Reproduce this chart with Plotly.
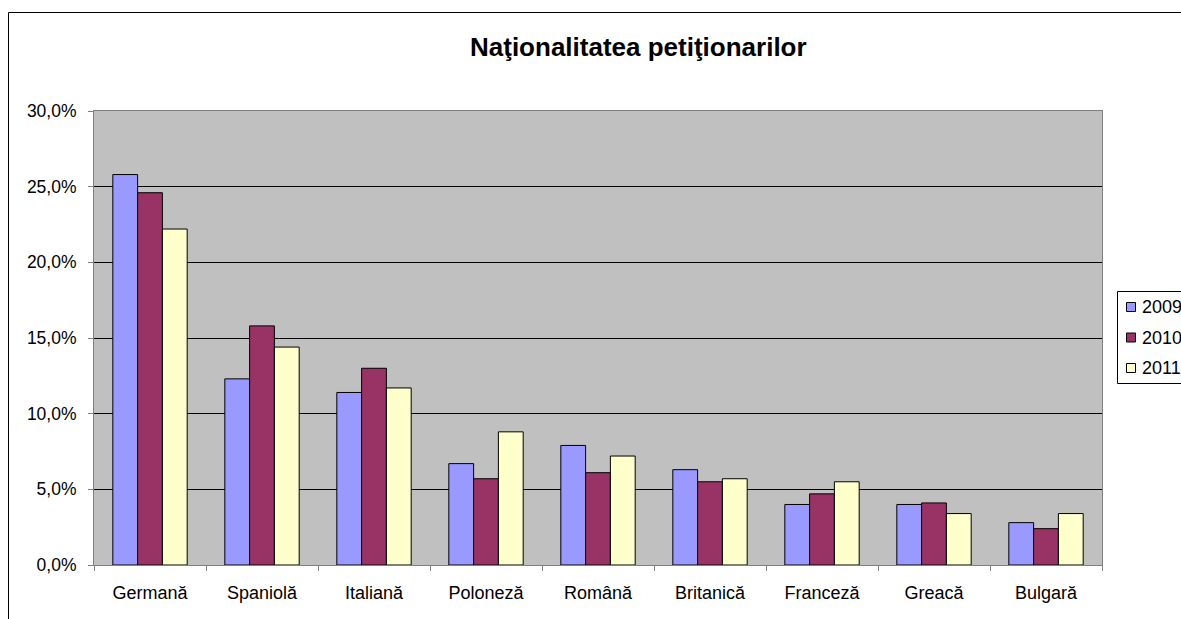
import plotly.graph_objects as go

categories = ["Germană", "Spaniolă", "Italiană", "Poloneză", "Română",
              "Britanică", "Franceză", "Greacă", "Bulgară"]
v2009 = [25.8, 12.3, 11.4, 6.7, 7.9, 6.3, 4.0, 4.0, 2.8]
v2010 = [24.6, 15.8, 13.0, 5.7, 6.1, 5.5, 4.7, 4.1, 2.4]
v2011 = [22.2, 14.4, 11.7, 8.8, 7.2, 5.7, 5.5, 3.4, 3.4]
series = [("2009", v2009, "#9999FF"), ("2010", v2010, "#993366"), ("2011", v2011, "#FFFFCC")]
y_ticks = [0, 5, 10, 15, 20, 25, 30]
y_tick_labels = ["0,0%", "5,0%", "10,0%", "15,0%", "20,0%", "25,0%", "30,0%"]

FONT = "Arial, Liberation Sans, sans-serif"
W, H = 1181, 619
# plot area in page pixels
L, R, T, B = 94, 1102, 111, 565

def px_x(p):
    return (p - L) / (R - L)

def px_y(p):
    return (B - p) / (B - T)

fig = go.Figure()
for name, vals, col in series:
    fig.add_trace(go.Bar(
        x=categories, y=vals, name=name, showlegend=False,
        marker=dict(color=col, line=dict(color="black", width=1)),
    ))

shapes = [
    # outer chart frame (continues past the right/bottom edges)
    dict(type="rect", xref="paper", yref="paper",
         x0=px_x(8.5), x1=px_x(1400), y0=px_y(12.5), y1=px_y(700),
         line=dict(color="black", width=1), fillcolor="rgba(0,0,0,0)", layer="above"),
    # legend box
    dict(type="rect", xref="paper", yref="paper",
         x0=px_x(1117.5), x1=px_x(1300), y0=px_y(291.5), y1=px_y(383.5),
         line=dict(color="black", width=1), fillcolor="white", layer="above"),
]
annotations = [dict(
    text="<b>Naţionalitatea petiţionarilor</b>", xref="paper", yref="paper",
    x=px_x(638), y=px_y(47), xanchor="center", yanchor="middle",
    showarrow=False, font=dict(family=FONT, size=26, color="black"),
)]
row_y0, row_gap = 307, 30.5
for i, (name, vals, col) in enumerate(series):
    cy = row_y0 + i * row_gap
    shapes.append(dict(
        type="rect", xref="paper", yref="paper",
        x0=px_x(1126.5), x1=px_x(1135.5), y0=px_y(cy - 4.5), y1=px_y(cy + 4.5),
        line=dict(color="black", width=1), fillcolor=col, layer="above"))
    annotations.append(dict(
        text=name, xref="paper", yref="paper", x=px_x(1140), y=px_y(cy),
        xanchor="left", yanchor="middle", showarrow=False,
        font=dict(family=FONT, size=18, color="black")))

fig.update_layout(
    width=W, height=H,
    margin=dict(l=L, r=W - R, t=T, b=H - B, autoexpand=False),
    paper_bgcolor="white", plot_bgcolor="#C0C0C0",
    barmode="group", bargap=0.336, bargroupgap=0,
    font=dict(family=FONT, size=18, color="black"),
    showlegend=False,
    xaxis=dict(
        type="category", showline=True, linecolor="#808080", linewidth=1, mirror=True,
        ticks="outside", tickson="boundaries", ticklen=5, tickcolor="#808080",
        showgrid=False, ticklabelstandoff=11,
        tickfont=dict(family=FONT, size=18, color="black"),
    ),
    yaxis=dict(
        range=[0, 30], tickvals=y_ticks, ticktext=y_tick_labels,
        showline=True, linecolor="#808080", linewidth=1, mirror=True,
        ticks="outside", ticklen=5, tickcolor="#808080",
        showgrid=True, gridcolor="black", gridwidth=1, zeroline=False,
        ticklabelstandoff=8,
        tickfont=dict(family=FONT, size=17.5, color="black"),
    ),
    annotations=annotations,
    shapes=shapes,
)

page_fix = ("document.documentElement.style.overflow='hidden';"
            "document.body.style.margin='0';document.body.style.overflow='hidden';")
fig.write_html("out.html", post_script=page_fix, config={"displayModeBar": False})
